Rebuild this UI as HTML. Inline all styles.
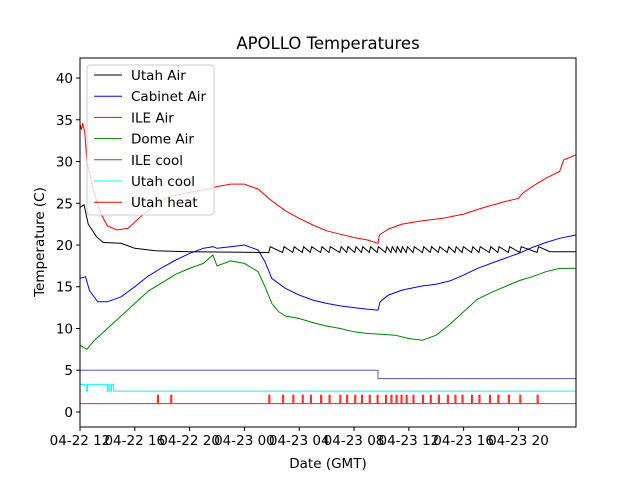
<!DOCTYPE html>
<html><head><meta charset="utf-8"><style>
body{margin:0;background:#fff;}
svg text{font-family:"DejaVu Sans","Liberation Sans",sans-serif;}
</style></head><body>
<svg id="c" width="640" height="480" viewBox="0 0 640 480">
<rect width="640" height="480" fill="#fff"/>
<text x="328" y="49" font-size="16.5" text-anchor="middle">APOLLO Temperatures</text>
<g id="plot"></g>
<g id="axes"></g>
<text x="328" y="468" font-size="13.5" text-anchor="middle">Date (GMT)</text>
<text transform="translate(44,242) rotate(-90)" font-size="13.5" text-anchor="middle">Temperature (C)</text>
<g id="legend"></g>
</svg>
<script>
const xTickHours=[12,16,20,24,28,32,36,40,44];
const xTickLabels=["04-22 12","04-22 16","04-22 20","04-23 00","04-23 04","04-23 08","04-23 12","04-23 16","04-23 20"];
const yTicks=[0,5,10,15,20,25,30,35,40];
const ileAir=[[12,34.5],[12.1,33.8],[12.2,34.6],[12.35,33.5],[12.5,30],[13,26.5],[13.5,23.8],[14,22.3],[14.7,21.8],[15.5,22],[16.5,23.5],[17.5,24.8],[18.5,25.8],[20,26.3],[21,26.6],[22,27],[23,27.3],[24,27.3],[25,26.7],[26,25.3],[27,24.1],[28,23.2],[29,22.4],[30,21.7],[31,21.3],[32,20.9],[33,20.6],[33.75,20.2],[33.85,21.2],[34.5,21.9],[35.5,22.5],[37,22.9],[38.5,23.2],[40,23.7],[41.5,24.5],[43,25.2],[44,25.6],[44.3,26.2],[45,27],[46,28],[47,28.8],[47.3,30.2],[48.2,30.8]];
const utahAirBase=[[12,24.5],[12.3,24.8],[12.6,22.5],[13.2,21],[13.7,20.3],[15,20.2],[16,19.6],[17.5,19.3],[20,19.2]];
const domeAir=[[12,8],[12.5,7.5],[13,8.5],[14,10],[15,11.5],[16,13],[17,14.5],[18,15.5],[19,16.5],[20,17.2],[21,17.8],[21.7,18.8],[22,17.5],[23,18.1],[24,17.8],[25,16.8],[25.5,15],[26,13],[26.5,12],[27,11.5],[28,11.2],[29,10.7],[30,10.3],[31,10],[32,9.6],[33,9.4],[34,9.3],[35,9.2],[36,8.8],[37,8.6],[38,9.2],[39,10.5],[40,12],[41,13.5],[42,14.3],[43,15],[44,15.7],[45,16.2],[46,16.8],[47,17.2],[48.2,17.2]];
const cabinetAir=[[12,16],[12.4,16.2],[12.7,14.5],[13.3,13.2],[14,13.2],[15,13.8],[16,15],[17,16.3],[18,17.3],[19,18.2],[20,19],[21,19.6],[21.7,19.8],[22,19.6],[23,19.8],[24,20],[25,19.4],[25.5,18],[26,16],[27,14.8],[28,14],[29,13.4],[30,13],[31,12.7],[32,12.5],[33,12.3],[33.75,12.2],[33.9,13.2],[34.5,14],[35.5,14.6],[37,15.1],[38,15.3],[39,15.7],[40,16.4],[41,17.2],[42,17.8],[43,18.4],[44,19],[45,19.7],[46,20.3],[47,20.8],[48.2,21.2]];
const ileCool=[[12,5],[33.75,5],[33.75,4],[48.2,4]];
const utahCool=[[12,3.3],[12.45,3.3],[12.45,2.5],[12.55,2.5],[12.55,3.3],[14.0,3.3],[14.0,2.5],[14.1,2.5],[14.1,3.3],[14.2,3.3],[14.2,2.5],[14.3,2.5],[14.3,3.3],[14.45,3.3],[14.45,2.5],[48.2,2.5]];
const heatPulses=[17.65,18.62,25.78,26.79,27.53,28.22,28.81,29.56,30.17,30.96,31.46,32.05,32.54,33.11,33.68,34.30,34.69,35.06,35.43,35.80,36.30,36.99,37.56,38.15,38.81,39.36,39.88,40.57,41.11,41.88,42.49,43.26,44.10,45.36];
const heatOn=2, heatOff=1;

const L=80,R=576,T=58,B=427;
const xMin=12,xMax=48.2,yMin=-1.8,yMax=42.4;
const X=h=>L+(h-xMin)/(xMax-xMin)*(R-L);
const Y=v=>B-(v-yMin)/(yMax-yMin)*(B-T);
const NS="http://www.w3.org/2000/svg";
const plot=document.getElementById('plot'),axes=document.getElementById('axes'),leg=document.getElementById('legend');
function mk(tag,attrs,parent){const e=document.createElementNS(NS,tag);for(const k in attrs)e.setAttribute(k,attrs[k]);parent.appendChild(e);return e;}
function line(pts,color,name){const p=mk('polyline',{points:pts.map(d=>X(d[0]).toFixed(1)+','+Y(d[1]).toFixed(1)).join(' '),fill:'none',stroke:color,'stroke-width':1},plot);

}
const heat=[[12,heatOff]];heatPulses.forEach(t=>{heat.push([t,heatOff],[t,heatOn],[t+0.08,heatOn],[t+0.08,heatOff]);});heat.push([48.2,heatOff]);
const ua=utahAirBase.slice();
heatPulses.forEach(t=>{if(t>20){ua.push([t,19.1],[t+0.1,19.8]);}});
ua.push([46.3,19.2],[48.2,19.2]);
line(ileCool,'#5555bb','series-ile-cool');
line(utahCool,'cyan','series-utah-cool');
line(heat,'#ff2020','series-utah-heat');
line(domeAir,'green','series-dome-air');
line(cabinetAir,'blue','series-cabinet-air');
line(ua,'black','series-utah-air');
line(ileAir,'red','series-ile-air');
mk('rect',{x:L,y:T,width:R-L,height:B-T,fill:'none',stroke:'#000','stroke-width':1},axes);
xTickHours.forEach((h,i)=>{const x=X(h);mk('line',{x1:x,x2:x,y1:B,y2:B+4,stroke:'#000'},axes);
const t=mk('text',{x:x,y:B+18,'font-size':13.5,'text-anchor':'middle'},axes);t.textContent=xTickLabels[i];

});
yTicks.forEach(v=>{const y=Y(v);mk('line',{x1:L-4,x2:L,y1:y,y2:y,stroke:'#000'},axes);
const t=mk('text',{x:L-7,y:y+5,'font-size':13.5,'text-anchor':'end'},axes);t.textContent=v;

});
const legNames=["Utah Air","Cabinet Air","ILE Air","Dome Air","ILE cool","Utah cool","Utah heat"];
const legColors=["black","blue","red","green","#5555bb","cyan","red"];
mk('rect',{x:87,y:65,width:127,height:150,rx:3,fill:'rgba(255,255,255,0.8)',stroke:'#ccc'},leg);
legNames.forEach((n,i)=>{const y=75+i*21.2;mk('line',{x1:94,x2:122,y1:y,y2:y,stroke:legColors[i],'stroke-width':1},leg);
const t=mk('text',{x:131,y:y+5,'font-size':13.5},leg);t.textContent=n;

});
</script>
</body></html>
